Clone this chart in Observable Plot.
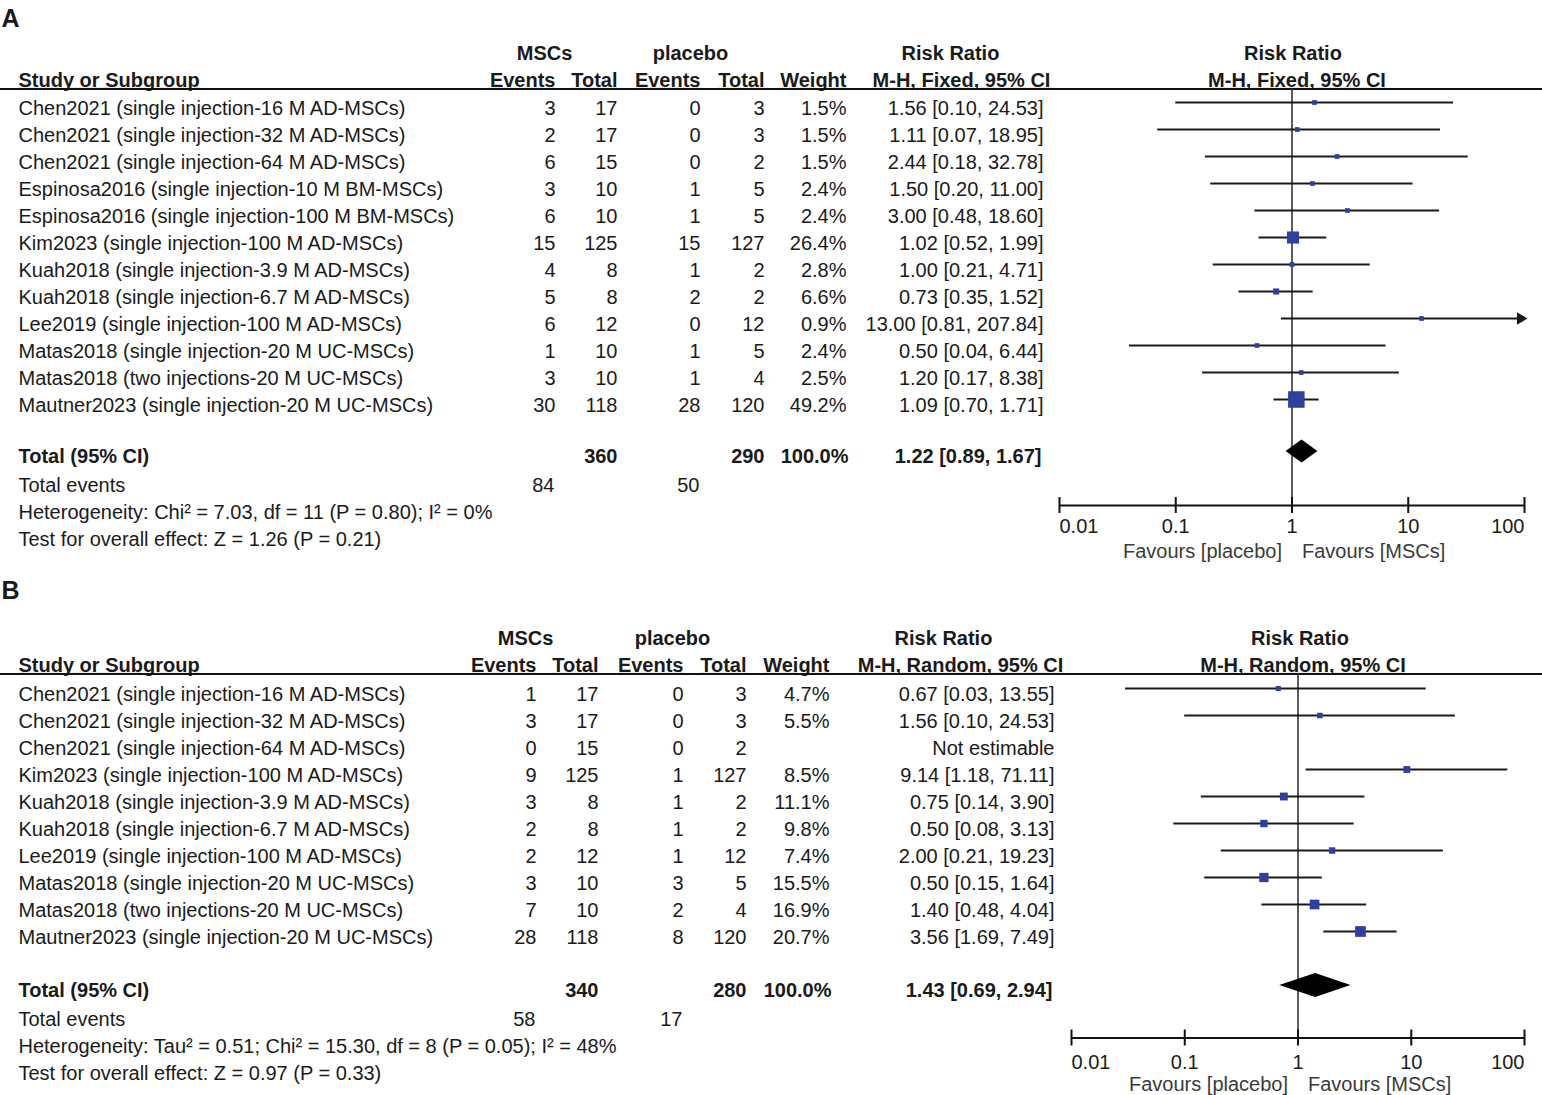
<!DOCTYPE html>
<html>
<head>
<meta charset="utf-8">
<script src="https://cdn.jsdelivr.net/npm/d3@7"></script>
<script src="https://cdn.jsdelivr.net/npm/@observablehq/plot@0.6"></script>
<style>
  html, body { margin: 0; padding: 0; background: #fff; }
  #chart svg { display: block; }
</style>
</head>
<body>
<div id="chart"></div>
<script>
// ---------------- Panel A data ----------------
const studiesA = [
  "Chen2021 (single injection-16 M AD-MSCs)",
  "Chen2021 (single injection-32 M AD-MSCs)",
  "Chen2021 (single injection-64 M AD-MSCs)",
  "Espinosa2016 (single injection-10 M BM-MSCs)",
  "Espinosa2016 (single injection-100 M BM-MSCs)",
  "Kim2023 (single injection-100 M AD-MSCs)",
  "Kuah2018 (single injection-3.9 M AD-MSCs)",
  "Kuah2018 (single injection-6.7 M AD-MSCs)",
  "Lee2019 (single injection-100 M AD-MSCs)",
  "Matas2018 (single injection-20 M UC-MSCs)",
  "Matas2018 (two injections-20 M UC-MSCs)",
  "Mautner2023 (single injection-20 M UC-MSCs)"
];
const eventsMscA = [3, 2, 6, 3, 6, 15, 4, 5, 6, 1, 3, 30];
const totalMscA = [17, 17, 15, 10, 10, 125, 8, 8, 12, 10, 10, 118];
const eventsPlaA = [0, 0, 0, 1, 1, 15, 1, 2, 0, 1, 1, 28];
const totalPlaA = [3, 3, 2, 5, 5, 127, 2, 2, 12, 5, 4, 120];
const weightA = [1.5, 1.5, 1.5, 2.4, 2.4, 26.4, 2.8, 6.6, 0.9, 2.4, 2.5, 49.2];
const rrA = [1.56, 1.11, 2.44, 1.50, 3.00, 1.02, 1.00, 0.73, 13.00, 0.50, 1.20, 1.09];
const lowerA = [0.10, 0.07, 0.18, 0.20, 0.48, 0.52, 0.21, 0.35, 0.81, 0.04, 0.17, 0.70];
const upperA = [24.53, 18.95, 32.78, 11.00, 18.60, 1.99, 4.71, 1.52, 207.84, 6.44, 8.38, 1.71];
const totalsA = [360, 290];
const totalEventsA = [84, 50];
const pooledA = [1.22, 0.89, 1.67];
const methodA = "M-H, Fixed, 95% CI";
const hetA = "Heterogeneity: Chi² = 7.03, df = 11 (P = 0.80); I² = 0%";
const testA = "Test for overall effect: Z = 1.26 (P = 0.21)";

// ---------------- Panel B data ----------------
const studiesB = [
  "Chen2021 (single injection-16 M AD-MSCs)",
  "Chen2021 (single injection-32 M AD-MSCs)",
  "Chen2021 (single injection-64 M AD-MSCs)",
  "Kim2023 (single injection-100 M AD-MSCs)",
  "Kuah2018 (single injection-3.9 M AD-MSCs)",
  "Kuah2018 (single injection-6.7 M AD-MSCs)",
  "Lee2019 (single injection-100 M AD-MSCs)",
  "Matas2018 (single injection-20 M UC-MSCs)",
  "Matas2018 (two injections-20 M UC-MSCs)",
  "Mautner2023 (single injection-20 M UC-MSCs)"
];
const eventsMscB = [1, 3, 0, 9, 3, 2, 2, 3, 7, 28];
const totalMscB = [17, 17, 15, 125, 8, 8, 12, 10, 10, 118];
const eventsPlaB = [0, 0, 0, 1, 1, 1, 1, 3, 2, 8];
const totalPlaB = [3, 3, 2, 127, 2, 2, 12, 5, 4, 120];
const weightB = [4.7, 5.5, null, 8.5, 11.1, 9.8, 7.4, 15.5, 16.9, 20.7];
const rrB = [0.67, 1.56, null, 9.14, 0.75, 0.50, 2.00, 0.50, 1.40, 3.56];
const lowerB = [0.03, 0.10, null, 1.18, 0.14, 0.08, 0.21, 0.15, 0.48, 1.69];
const upperB = [13.55, 24.53, null, 71.11, 3.90, 3.13, 19.23, 1.64, 4.04, 7.49];
const totalsB = [340, 280];
const totalEventsB = [58, 17];
const pooledB = [1.43, 0.69, 2.94];
const methodB = "M-H, Random, 95% CI";
const hetB = "Heterogeneity: Tau² = 0.51; Chi² = 15.30, df = 8 (P = 0.05); I² = 48%";
const testB = "Test for overall effect: Z = 0.97 (P = 0.33)";

// ---------------- shared labels ----------------
const axisTicks = [0.01, 0.1, 1, 10, 100];
const axisTickLabels = ["0.01", "0.1", "1", "10", "100"];
const favoursLabels = ["Favours [placebo]", "Favours [MSCs]"];
const groupLabels = ["MSCs", "placebo"];
const colHeaders = ["Study or Subgroup", "Events", "Total", "Events", "Total", "Weight"];
const effectLabel = "Risk Ratio";

// ---------------- styling / layout ----------------
const FONT = "'Liberation Sans', Arial, Helvetica, sans-serif";
const INK = "#1a1a1a";
const BLUE = "#2f3f9f";

function buildPanel(D, L) {
  const yr = px => (px - L.row0) / L.rowH; // pixel row position -> row units
  const rows = D.studies.map((s, i) => ({
    i, study: s, e1: D.e1[i], t1: D.t1[i], e2: D.e2[i], t2: D.t2[i],
    w: D.w[i], rr: D.rr[i], lo: D.lo[i], hi: D.hi[i]
  }));
  const est = rows.filter(r => r.rr != null);
  const f2 = v => v.toFixed(2);
  const ciText = (rr, lo, hi) => rr == null ? "Not estimable" : `${f2(rr)} [${f2(lo)}, ${f2(hi)}]`;

  const T = (data, o) => Plot.text(data, {frameAnchor: "left", fill: INK, fontSize: 20, ...o});
  const one = v => [v];
  const marks = [];

  // panel letter
  marks.push(T(one(D.letter), {y: () => yr(L.letter), text: d => d, dx: 1, fontSize: 25, fontWeight: "bold", textAnchor: "start"}));

  // header row 1
  marks.push(T(one(groupLabels[0]), {y: () => yr(L.hdr1), text: d => d, dx: L.msc, textAnchor: "middle", fontWeight: "bold"}));
  marks.push(T(one(groupLabels[1]), {y: () => yr(L.hdr1), text: d => d, dx: L.pla, textAnchor: "middle", fontWeight: "bold"}));
  marks.push(T(one(effectLabel), {y: () => yr(L.hdr1), text: d => d, dx: L.rrHdr, textAnchor: "middle", fontWeight: "bold"}));
  marks.push(Plot.text(one(effectLabel), {x: () => 1, y: () => yr(L.hdr1), text: d => d, dx: L.fHdr1, textAnchor: "middle", fontWeight: "bold", fontSize: 20, fill: INK}));

  // header row 2
  const hdrX = [L.c.study, L.c.e1, L.c.t1, L.c.e2, L.c.t2, L.c.w];
  colHeaders.forEach((h, k) => {
    marks.push(T(one(h), {y: () => yr(L.hdr2), text: d => d, dx: hdrX[k], textAnchor: k === 0 ? "start" : "end", fontWeight: "bold"}));
  });
  marks.push(T(one(D.method), {y: () => yr(L.hdr2), text: d => d, dx: L.ciHdr, textAnchor: "middle", fontWeight: "bold"}));
  marks.push(Plot.text(one(D.method), {x: () => 1, y: () => yr(L.hdr2), text: d => d, dx: L.fHdr2, textAnchor: "middle", fontWeight: "bold", fontSize: 20, fill: INK}));

  // header rule (full width)
  marks.push(Plot.ruleY(one(yr(L.hline)), {stroke: "#111", strokeWidth: 2}));

  // study rows
  marks.push(T(rows, {y: "i", text: "study", dx: L.c.study, textAnchor: "start"}));
  marks.push(T(rows, {y: "i", text: r => String(r.e1), dx: L.c.e1, textAnchor: "end"}));
  marks.push(T(rows, {y: "i", text: r => String(r.t1), dx: L.c.t1, textAnchor: "end"}));
  marks.push(T(rows, {y: "i", text: r => String(r.e2), dx: L.c.e2, textAnchor: "end"}));
  marks.push(T(rows, {y: "i", text: r => String(r.t2), dx: L.c.t2, textAnchor: "end"}));
  marks.push(T(rows, {y: "i", text: r => r.w == null ? "" : r.w.toFixed(1) + "%", dx: L.c.w, textAnchor: "end"}));
  marks.push(T(rows, {y: "i", text: r => ciText(r.rr, r.lo, r.hi), dx: L.c.ci, textAnchor: "end"}));

  // total row
  const yt = () => yr(L.total);
  marks.push(T(one("Total (95% CI)"), {y: yt, text: d => d, dx: L.c.study, textAnchor: "start", fontWeight: "bold"}));
  marks.push(T(one(D.totals[0]), {y: yt, text: d => String(d), dx: L.c.t1, textAnchor: "end", fontWeight: "bold"}));
  marks.push(T(one(D.totals[1]), {y: yt, text: d => String(d), dx: L.c.t2, textAnchor: "end", fontWeight: "bold"}));
  marks.push(T(one("100.0%"), {y: yt, text: d => d, dx: L.c.w + 2, textAnchor: "end", fontWeight: "bold"}));
  marks.push(T(one(D.pooled), {y: yt, text: p => ciText(p[0], p[1], p[2]), dx: L.c.ci - 2, textAnchor: "end", fontWeight: "bold"}));

  // total events row
  const ye = () => yr(L.tev);
  marks.push(T(one("Total events"), {y: ye, text: d => d, dx: L.c.study, textAnchor: "start"}));
  marks.push(T(one(D.tev[0]), {y: ye, text: d => String(d), dx: L.c.e1 - 1, textAnchor: "end"}));
  marks.push(T(one(D.tev[1]), {y: ye, text: d => String(d), dx: L.c.e2 - 1, textAnchor: "end"}));

  // heterogeneity / test
  marks.push(T(one(D.het), {y: () => yr(L.het), text: d => d, dx: L.c.study, textAnchor: "start"}));
  marks.push(T(one(D.test), {y: () => yr(L.test), text: d => d, dx: L.c.study, textAnchor: "start"}));

  // ---- forest plot ----
  const xMax = axisTicks[axisTicks.length - 1];
  // line of no effect
  marks.push(Plot.ruleX(one(1), {x: d => d, y1: yr(L.hline), y2: yr(L.axis), stroke: "#333", strokeWidth: 1.6}));
  // confidence intervals
  marks.push(Plot.ruleY(est, {y: "i", x1: "lo", x2: r => Math.min(r.hi, xMax), stroke: INK, strokeWidth: 1.8, dy: L.off}));
  // arrows for CIs beyond axis
  marks.push(Plot.dot(est.filter(r => r.hi > xMax), {
    x: r => Math.min(r.hi, xMax), y: "i", symbol: "triangle", rotate: 90, r: 4.6, fill: INK, stroke: "none", dy: L.off, dx: -4
  }));
  // weight squares
  marks.push(Plot.dot(est, {x: "rr", y: "i", r: r => Math.max(r.w, 4), symbol: "square", fill: BLUE, stroke: "none", dy: L.off}));
  // pooled diamond
  const h = L.diamondH / L.rowH;
  const ty = yr(L.total);
  const dia = [
    {y: ty - h, x1: D.pooled[0], x2: D.pooled[0]},
    {y: ty, x1: D.pooled[1], x2: D.pooled[2]},
    {y: ty + h, x1: D.pooled[0], x2: D.pooled[0]}
  ];
  marks.push(Plot.areaX(dia, {y: "y", x1: "x1", x2: "x2", fill: "#000", curve: "linear", dy: L.offT}));

  // axis
  const ya = yr(L.axis), tk = 8 / L.rowH;
  marks.push(Plot.ruleY(one(ya), {y: d => d, x1: axisTicks[0], x2: xMax, stroke: "#111", strokeWidth: 2}));
  marks.push(Plot.ruleX(axisTicks, {x: d => d, y1: ya - tk, y2: ya + tk, stroke: "#111", strokeWidth: 2}));
  const tl = axisTicks.map((t, k) => ({t, label: axisTickLabels[k], k}));
  const last = tl.length - 1;
  marks.push(Plot.text(tl.filter(d => d.k === 0), {x: "t", y: () => yr(L.tickLab), text: "label", textAnchor: "start", fontSize: 20, fill: INK}));
  marks.push(Plot.text(tl.filter(d => d.k > 0 && d.k < last), {x: "t", y: () => yr(L.tickLab), text: "label", textAnchor: "middle", fontSize: 20, fill: INK}));
  marks.push(Plot.text(tl.filter(d => d.k === last), {x: "t", y: () => yr(L.tickLab), text: "label", textAnchor: "end", fontSize: 20, fill: INK}));
  // favours labels
  marks.push(Plot.text(one(favoursLabels[0]), {x: () => 1, y: () => yr(L.fav), text: d => d, textAnchor: "end", dx: -10, fontSize: 20, fill: "#3a3a3a"}));
  marks.push(Plot.text(one(favoursLabels[1]), {x: () => 1, y: () => yr(L.fav), text: d => d, textAnchor: "start", dx: 10, fontSize: 20, fill: "#3a3a3a"}));

  const svg = Plot.plot({
    width: 1542,
    height: L.height,
    marginTop: 0, marginRight: 0, marginBottom: 0, marginLeft: 0,
    x: {type: "log", domain: [axisTicks[0], xMax], range: [L.x0, L.x1], axis: null},
    y: {type: "linear", domain: [0, 1], range: [L.row0, L.row0 + L.rowH], axis: null},
    r: {type: "sqrt", domain: [0, 50], range: [0, 9.4]},
    style: {fontFamily: FONT, fontSize: "20px", color: INK, background: "#fff", overflow: "visible"},
    marks
  });
  // underline the column headings
  const under = new Set([...colHeaders, D.method]);
  d3.select(svg).selectAll("text").filter(function() { return under.has(this.textContent); })
    .attr("text-decoration", "underline");
  return svg;
}

const layoutA = {
  height: 572, row0: 108, rowH: 27, letter: 18, hdr1: 53, hdr2: 80, hline: 88.5,
  total: 456, tev: 485, het: 512, test: 539, axis: 505, tickLab: 526, fav: 551,
  x0: 1059, x1: 1524, off: -6, offT: -5, diamondH: 11.5,
  msc: 544, pla: 690, rrHdr: 950, ciHdr: 961, fHdr1: 1, fHdr2: 5,
  c: {study: 18, e1: 555, t1: 617, e2: 700, t2: 764, w: 846, ci: 1043}
};
const layoutB = {
  height: 523, row0: 122, rowH: 27, letter: 18, hdr1: 66, hdr2: 93, hline: 101.5,
  total: 418, tev: 447, het: 474, test: 501, axis: 465.5, tickLab: 490, fav: 512,
  x0: 1071, x1: 1524, off: -6, offT: -5, diamondH: 12,
  msc: 525, pla: 672, rrHdr: 943, ciHdr: 960, fHdr1: 2, fHdr2: 5,
  c: {study: 18, e1: 536, t1: 598, e2: 683, t2: 746, w: 829, ci: 1054}
};

const panelA = buildPanel({
  letter: "A", studies: studiesA, e1: eventsMscA, t1: totalMscA, e2: eventsPlaA, t2: totalPlaA,
  w: weightA, rr: rrA, lo: lowerA, hi: upperA, totals: totalsA, tev: totalEventsA,
  pooled: pooledA, method: methodA, het: hetA, test: testA
}, layoutA);
const panelB = buildPanel({
  letter: "B", studies: studiesB, e1: eventsMscB, t1: totalMscB, e2: eventsPlaB, t2: totalPlaB,
  w: weightB, rr: rrB, lo: lowerB, hi: upperB, totals: totalsB, tev: totalEventsB,
  pooled: pooledB, method: methodB, het: hetB, test: testB
}, layoutB);

document.getElementById("chart").append(panelA, panelB);
</script>
</body>
</html>
